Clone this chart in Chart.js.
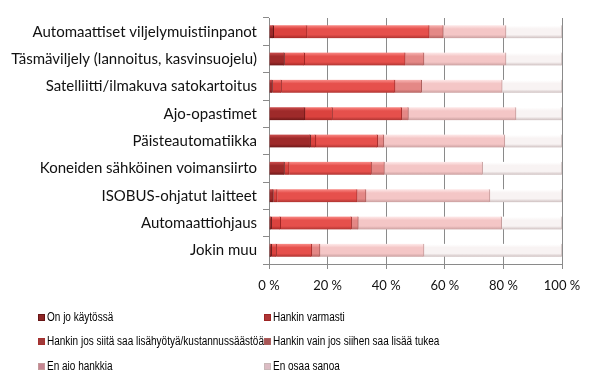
<!DOCTYPE html>
<html><head><meta charset="utf-8">
<script src="https://cdn.jsdelivr.net/npm/chart.js@4/dist/chart.umd.min.js"></script>
<style>
html,body{margin:0;padding:0;background:#fff;}
#wrap{position:relative;width:600px;height:386px;background:#fff;overflow:hidden;}
#legend{position:absolute;left:0;top:0;width:600px;height:386px;pointer-events:none;font-family:"Liberation Sans",Arial,sans-serif;font-size:12.5px;color:#000;}
.item{position:absolute;display:flex;align-items:center;white-space:nowrap;height:14px;}
.mk{width:7px;height:7px;margin-right:2px;box-sizing:border-box;flex:none;}
.tx{display:inline-block;transform-origin:0 50%;}
</style></head>
<body><div id="wrap"><canvas id="c" width="600" height="386"></canvas><div id="legend"></div></div>
<script>
const categories = ["Automaattiset viljelymuistiinpanot","Täsmäviljely (lannoitus, kasvinsuojelu)","Satelliitti/ilmakuva satokartoitus","Ajo-opastimet","Päisteautomatiikka","Koneiden sähköinen voimansiirto","ISOBUS-ohjatut laitteet","Automaattiohjaus","Jokin muu"];
const seriesNames = ["On jo käytössä","Hankin varmasti","Hankin jos siitä saa lisähyötyä/kustannussäästöä","Hankin vain jos siihen saa lisää tukea","En aio hankkia","En osaa sanoa"];
const onJo      = [1.6, 5.3, 1.2, 12.3, 14.2, 5.3, 1.5, 0.9, 0.9];
const varmasti  = [11.4, 6.9, 3.1, 9.4, 1.8, 1.6, 1.3, 3.1, 1.7];
const lisahyoty = [41.7, 34.3, 38.7, 23.6, 21.1, 28.1, 27.3, 24.2, 12.0];
const tuki      = [4.8, 6.4, 9.1, 2.3, 2.1, 4.4, 3.0, 2.3, 2.8];
const enAio     = [21.4, 28.0, 27.5, 36.7, 41.3, 33.5, 42.3, 48.9, 35.5];
const enOsaa    = [19.1, 19.1, 20.4, 15.7, 19.5, 27.1, 24.6, 20.6, 47.1];
const xTicks = [0, 20, 40, 60, 80, 100];

const seriesValues = [onJo, varmasti, lisahyoty, tuki, enAio, enOsaa];
// [top highlight, mid, bottom shadow]
const palette = [
  ["#c84a4a","#9e2a2a","#661515"],
  ["#f47672","#db423e","#9c2523"],
  ["#f78480","#e6504c","#a6302e"],
  ["#f6b0ae","#e48886","#ac5e5c"],
  ["#fde6e6","#f4c6c6","#c49a9a"],
  ["#ffffff","#f8f3f3","#c8b8b8"]
];
const legendColors = ["#8e2626","#b03636","#a03a3a","#a85656","#c58592","#dcbcc4"];

function grad(i){
  return function(ctx){
    const chart = ctx.chart;
    const p = palette[i];
    if(!chart.chartArea || !chart.scales.y) return p[1];
    const y = chart.scales.y.getPixelForValue(ctx.dataIndex);
    const g = chart.ctx.createLinearGradient(0, y-6, 0, y+7);
    g.addColorStop(0, p[0]);
    g.addColorStop(0.25, p[1]);
    g.addColorStop(0.7, p[1]);
    g.addColorStop(1, p[2]);
    return g;
  };
}

const datasets = seriesNames.map((n,i)=>({
  label:n,
  data:seriesValues[i],
  backgroundColor:grad(i),
  borderColor:palette[i][2],
  borderWidth:{left:0,right:1,top:0,bottom:0},
  borderSkipped:false,
  barThickness:13
}));

new Chart(document.getElementById('c'),{
  type:'bar',
  data:{labels:categories,datasets},
  options:{
    indexAxis:'y',
    responsive:false,
    animation:false,
    layout:{padding:{left:0,right:38,top:18,bottom:86}},
    plugins:{legend:{display:false},tooltip:{enabled:false}},
    scales:{
      x:{
        stacked:true,min:0,max:100,
        afterBuildTicks:(s)=>{s.ticks = xTicks.map(v=>({value:v}));},
        grid:{color:'#8a8a8a',lineWidth:1,drawTicks:true,tickLength:5,tickColor:'#8a8a8a'},
        border:{display:true,color:'#8a8a8a'},
        ticks:{color:'#111',font:{family:'Lato',size:13},padding:9,callback:(v)=>v+' %',maxRotation:0},
        afterFit:(s)=>{s.height=36;}
      },
      y:{
        stacked:true,
        grid:{drawOnChartArea:false,drawTicks:true,tickLength:6,color:'#8a8a8a',offset:true},
        border:{display:true,color:'#8a8a8a'},
        ticks:{color:'#111',font:{family:'Lato',size:15},padding:6,autoSkip:false},
        afterFit:(s)=>{s.width=269;}
      }
    }
  }
});

const leg = document.getElementById('legend');
const cols=[38,264], rows=[317,341,366];
const spans=[];
seriesNames.forEach((n,i)=>{
  const d=document.createElement('div');
  d.className='item';
  d.style.left=cols[i%2]+'px';
  d.style.top=(rows[Math.floor(i/2)]-7)+'px';
  const m=document.createElement('div');
  m.className='mk';
  m.style.background=legendColors[i];
  m.style.border='1px solid '+palette[i][2];
  const t=document.createElement('span');
  t.className='tx';
  t.textContent=n;
  d.appendChild(m);d.appendChild(t);
  leg.appendChild(d);
  spans.push(t);
});
// condense legend text to the narrow face of the original
const w = spans[2].getBoundingClientRect().width;
const f = w>0 ? 217/w : 1;
spans.forEach(s=>{s.style.transform='scaleX('+f+')';});
</script></body></html>
